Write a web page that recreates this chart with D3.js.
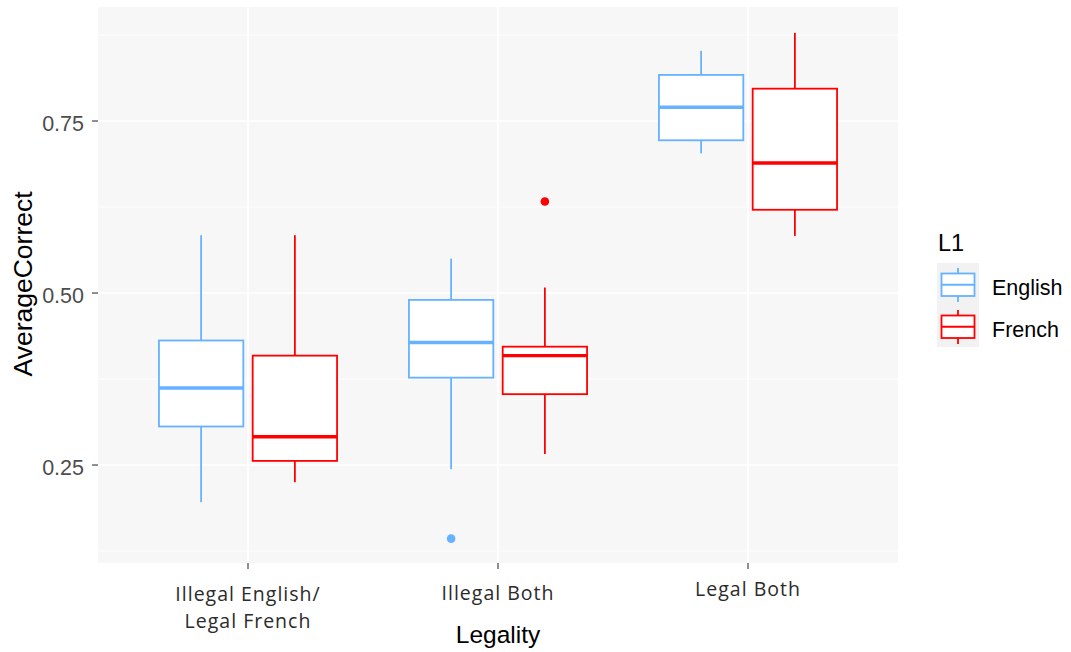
<!DOCTYPE html>
<html>
<head>
<meta charset="utf-8">
<script src="https://cdn.jsdelivr.net/npm/d3@7"></script>
<style>
  html, body { margin: 0; padding: 0; background: #ffffff; }
  svg { display: block; }
</style>
</head>
<body>
<svg id="chart" width="1071" height="652"></svg>
<script>
// Categories and groups
const categories = ["Illegal English/\nLegal French", "Illegal Both", "Legal Both"];
const groups = ["English", "French"];
const groupColors = ["#66B2FF", "#FF0000"];

// Five-number summaries per category, in category order
const englishLow    = [0.196, 0.244, 0.703];
const englishQ1     = [0.306, 0.377, 0.722];
const englishMedian = [0.362, 0.428, 0.770];
const englishQ3     = [0.431, 0.490, 0.817];
const englishHigh   = [0.584, 0.550, 0.852];

const frenchLow    = [0.225, 0.266, 0.583];
const frenchQ1     = [0.256, 0.353, 0.621];
const frenchMedian = [0.291, 0.409, 0.689];
const frenchQ3     = [0.409, 0.422, 0.797];
const frenchHigh   = [0.584, 0.508, 0.878];

// Outlying points: [category index, group index, value]
const outliers = [[1, 0, 0.143], [1, 1, 0.633]];

const yTicks = [0.25, 0.50, 0.75];
const yMinor = [0.125, 0.375, 0.625, 0.875];

const series = [
  { low: englishLow, q1: englishQ1, med: englishMedian, q3: englishQ3, high: englishHigh },
  { low: frenchLow,  q1: frenchQ1,  med: frenchMedian,  q3: frenchQ3,  high: frenchHigh }
];

const svg = d3.select("#chart");
const panel = { left: 98, right: 898, top: 7, bottom: 563 };
const sansFont = "Liberation Sans, Arial, sans-serif";
const lineW = 1.8;

// Discrete axis with an expansion of 0.6 units per side
const x = d3.scaleLinear().domain([-0.6, categories.length - 1 + 0.6]).range([panel.left, panel.right]);
const y = d3.scaleLinear().domain([0.1076, 0.9157]).range([panel.bottom, panel.top]);

const dodgeWidth = 0.75;
const slot = dodgeWidth / groups.length;
const boxWidth = slot * 0.9;
const groupCenter = (ci, gi) => ci - dodgeWidth / 2 + slot * (gi + 0.5);

// Panel background
svg.append("rect")
  .attr("x", panel.left).attr("y", panel.top)
  .attr("width", panel.right - panel.left).attr("height", panel.bottom - panel.top)
  .attr("fill", "#F7F7F7");

const grid = svg.append("g");
grid.selectAll("line.minor").data(yMinor).enter().append("line")
  .attr("x1", panel.left).attr("x2", panel.right)
  .attr("y1", d => y(d)).attr("y2", d => y(d))
  .attr("stroke", "#FFFFFF").attr("stroke-width", 0.8);
grid.selectAll("line.major").data(yTicks).enter().append("line")
  .attr("x1", panel.left).attr("x2", panel.right)
  .attr("y1", d => y(d)).attr("y2", d => y(d))
  .attr("stroke", "#FFFFFF").attr("stroke-width", 1.6);
grid.selectAll("line.vmajor").data(categories.map((c, i) => i)).enter().append("line")
  .attr("x1", d => x(d)).attr("x2", d => x(d))
  .attr("y1", panel.top).attr("y2", panel.bottom)
  .attr("stroke", "#FFFFFF").attr("stroke-width", 1.6);

// Boxes
const boxes = svg.append("g");
series.forEach((s, gi) => {
  const color = groupColors[gi];
  categories.forEach((c, ci) => {
    const cx = x(groupCenter(ci, gi));
    const half = (x(boxWidth) - x(0)) / 2;
    const g = boxes.append("g");
    g.append("line").attr("x1", cx).attr("x2", cx)
      .attr("y1", y(s.high[ci])).attr("y2", y(s.q3[ci]))
      .attr("stroke", color).attr("stroke-width", lineW);
    g.append("line").attr("x1", cx).attr("x2", cx)
      .attr("y1", y(s.q1[ci])).attr("y2", y(s.low[ci]))
      .attr("stroke", color).attr("stroke-width", lineW);
    g.append("rect")
      .attr("x", cx - half).attr("y", y(s.q3[ci]))
      .attr("width", half * 2).attr("height", y(s.q1[ci]) - y(s.q3[ci]))
      .attr("fill", "#FFFFFF").attr("stroke", color).attr("stroke-width", lineW);
    g.append("line").attr("x1", cx - half).attr("x2", cx + half)
      .attr("y1", y(s.med[ci])).attr("y2", y(s.med[ci]))
      .attr("stroke", color).attr("stroke-width", 3.4);
  });
});

svg.append("g").selectAll("circle").data(outliers).enter().append("circle")
  .attr("cx", d => x(groupCenter(d[0], d[1])))
  .attr("cy", d => y(d[2]))
  .attr("r", 4.3)
  .attr("fill", d => groupColors[d[1]]);

// Y axis
const yAxis = svg.append("g");
yTicks.forEach(t => {
  yAxis.append("line").attr("x1", panel.left - 6).attr("x2", panel.left)
    .attr("y1", y(t)).attr("y2", y(t)).attr("stroke", "#333333").attr("stroke-width", 1.1);
  yAxis.append("text").attr("x", panel.left - 14).attr("y", y(t) + 9.5)
    .attr("text-anchor", "end")
    .attr("font-family", sansFont).attr("font-size", 21.5)
    .attr("fill", "#4D4D4D").text(d3.format(".2f")(t));
});

// X axis
const xAxis = svg.append("g");
const labelBaselines = [601, 600, 596];
categories.forEach((c, i) => {
  xAxis.append("line").attr("x1", x(i)).attr("x2", x(i))
    .attr("y1", panel.bottom).attr("y2", panel.bottom + 6)
    .attr("stroke", "#333333").attr("stroke-width", 1.1);
  const lines = c.split("\n");
  const t = xAxis.append("text")
    .attr("text-anchor", "middle")
    .attr("font-family", "Open Sans, Noto Sans, sans-serif").attr("font-size", 19.5)
    .attr("letter-spacing", 1)
    .attr("fill", "#2B2B2B");
  lines.forEach((ln, k) => {
    t.append("tspan").attr("x", x(i)).attr("y", labelBaselines[i] + k * 27).text(ln);
  });
});

// Axis titles
svg.append("text").attr("x", x(1)).attr("y", 643)
  .attr("text-anchor", "middle")
  .attr("font-family", sansFont).attr("font-size", 24.5)
  .attr("fill", "#000000").text("Legality");
svg.append("text")
  .attr("transform", `translate(32, 284) rotate(-90)`)
  .attr("text-anchor", "middle")
  .attr("font-family", sansFont).attr("font-size", 26.5)
  .attr("fill", "#000000").text("AverageCorrect");

// Legend
const legend = svg.append("g").attr("transform", "translate(937, 0)");
legend.append("text").attr("x", 1).attr("y", 251)
  .attr("font-family", sansFont).attr("font-size", 23.5)
  .attr("fill", "#000000").text("L1");
groups.forEach((gname, gi) => {
  const top = 263 + gi * 42;
  const color = groupColors[gi];
  const k = legend.append("g");
  k.append("rect").attr("x", 0).attr("y", top).attr("width", 42).attr("height", 42).attr("fill", "#F2F2F2");
  k.append("line").attr("x1", 21).attr("x2", 21).attr("y1", top + 5).attr("y2", top + 39)
    .attr("stroke", color).attr("stroke-width", lineW);
  k.append("rect").attr("x", 4.5).attr("y", top + 10.5).attr("width", 33).attr("height", 22.5)
    .attr("fill", "#FFFFFF").attr("stroke", color).attr("stroke-width", lineW);
  k.append("line").attr("x1", 4.5).attr("x2", 37.5).attr("y1", top + 21.75).attr("y2", top + 21.75)
    .attr("stroke", color).attr("stroke-width", lineW);
  k.append("text").attr("x", 55).attr("y", top + 32)
    .attr("font-family", sansFont).attr("font-size", 21.5)
    .attr("fill", "#000000").text(gname);
});
</script>
</body>
</html>
